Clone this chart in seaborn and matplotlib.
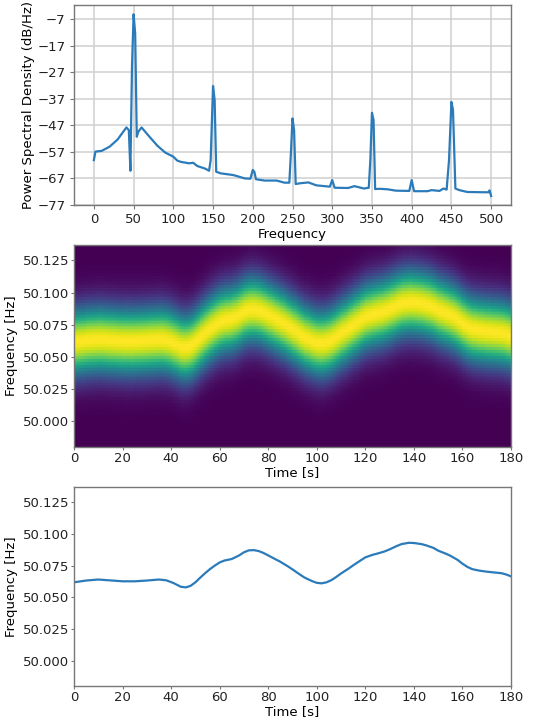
import numpy as np
import pandas as pd
import matplotlib
matplotlib.use("Agg")
import matplotlib.pyplot as plt
import seaborn as sns

# ---------------- data ----------------
psd_freq = [0, 2, 10, 20, 30, 38, 41, 44, 46, 48, 50, 52, 54, 56, 60, 70, 80, 90,
            100, 105, 110, 120, 125, 130, 140, 145, 147, 150, 152, 154, 160, 175,
            180, 190, 197, 200, 202, 204, 215, 230, 240, 246, 248, 250, 252, 254,
            260, 270, 280, 297, 300, 303, 320, 328, 340, 346, 348, 350, 352, 354,
            360, 370, 380, 397, 400, 403, 420, 425, 435, 440, 444, 447, 450, 452,
            455, 460, 470, 490, 497, 498, 500]
psd_db = [-60.1, -56.9, -56.6, -55.0, -52.3, -49.0, -47.8, -48.8, -64.1, -24.9,
          -5.2, -12.4, -51.3, -49.4, -47.8, -51.3, -54.7, -57.3,
          -58.8, -60.3, -60.8, -61.3, -61.1, -62.3, -63.3, -64.1, -60.1, -32.2,
          -37.5, -64.5, -65.1, -65.7,
          -66.1, -67.0, -67.1, -63.8, -64.5, -67.3, -67.8, -67.8, -68.6, -68.6,
          -57.6, -44.4, -48.8, -69.1,
          -68.8, -68.5, -69.6, -70.1, -67.6, -70.5, -70.6, -69.9, -70.8, -70.5,
          -60.0, -42.3, -45.0, -71.0,
          -70.9, -71.1, -71.6, -71.7, -67.6, -71.8, -71.8, -71.4, -71.7, -70.8,
          -71.2, -60.1, -38.2, -41.2,
          -70.8, -71.4, -72.1, -72.2, -72.2, -71.5, -73.6]
psd_xticks = [0, 50, 100, 150, 200, 250, 300, 350, 400, 450, 500]
psd_yticks = [-77, -67, -57, -47, -37, -27, -17, -7]

track_time = [0, 5, 10, 15, 20, 25, 30, 35, 38, 41, 44, 46, 48, 50, 52, 54, 56,
              58, 60, 62, 65, 68, 70, 72, 74, 76, 78, 80, 83, 85, 88, 90, 93,
              95, 98, 100, 102, 104, 106, 108, 110, 113, 115, 118, 120, 123,
              125, 128, 130, 133, 135, 138, 140, 143, 145, 148, 150, 153, 155,
              158, 160, 162, 164, 167, 170, 173, 176, 178, 180]
track_freq = [50.0618, 50.0632, 50.0640, 50.0633, 50.0626, 50.0626, 50.0632,
              50.0640, 50.0634, 50.0612, 50.0583, 50.0578, 50.0590, 50.0618,
              50.0655, 50.0690, 50.0722, 50.0750, 50.0775, 50.0790, 50.0802,
              50.0830, 50.0855, 50.0870, 50.0872, 50.0865, 50.0850, 50.0830,
              50.0800, 50.0780, 50.0745, 50.0720, 50.0680, 50.0655, 50.0628,
              50.0614, 50.0610, 50.0618, 50.0635, 50.0660, 50.0688, 50.0725,
              50.0752, 50.0790, 50.0815, 50.0835, 50.0845, 50.0862, 50.0878,
              50.0905, 50.0920, 50.0930, 50.0928, 50.0920, 50.0910, 50.0890,
              50.0868, 50.0845, 50.0828, 50.0795, 50.0765, 50.0740, 50.0722,
              50.0710, 50.0702, 50.0696, 50.0690, 50.0680, 50.0665]
freq_ticks = [50.000, 50.025, 50.050, 50.075, 50.100, 50.125]
time_ticks = [0, 20, 40, 60, 80, 100, 120, 140, 160, 180]
band_width = 0.025          # spectral line half-width [Hz]
band_shape = 2.0            # exponent of the line profile
freq_bin = 0.0023           # frequency resolution of the spectrogram [Hz]
freq_lim = (49.980, 50.137)

# ---------------- figure ----------------
plt.rcParams['font.family'] = ['DejaVu Sans']
FS = 9.5
spine_col = '#777777'
line_col = '#2b7bba'

fig = plt.figure(figsize=(5.58, 7.24), dpi=100)
W, H = 558.0, 724.0
def box(l, r, t, b):
    return [l / W, 1 - b / H, (r - l) / W, (b - t) / H]

ax1 = fig.add_axes(box(74, 511, 5, 205))
ax2 = fig.add_axes(box(74, 511, 245, 447))
ax3 = fig.add_axes(box(74, 511, 487, 686))

# --- PSD ---
df_psd = pd.DataFrame({'f': psd_freq, 'p': psd_db})
sns.lineplot(data=df_psd, x='f', y='p', ax=ax1, color=line_col, lw=1.6)
ax1.set_xlim(-25, 525)
ax1.set_ylim(-77, -1.7)
ax1.set_xticks(psd_xticks)
ax1.set_yticks(psd_yticks)
ax1.grid(True, color='#d0d0d0', lw=1.1)
ax1.set_axisbelow(True)
ax1.set_xlabel('Frequency', fontsize=FS, labelpad=1.5)
ax1.set_ylabel('Power Spectral Density (dB/Hz)', fontsize=FS, labelpad=2)
ax1.tick_params(labelsize=FS, colors='#222222', length=3, pad=3)

# --- spectrogram ---
t_nodes = np.array(track_time, dtype=float)
c_nodes = np.array(track_freq)
centers = np.arange(freq_lim[0] + freq_bin / 2, freq_lim[1] + freq_bin, freq_bin)
edges_lo = centers - freq_bin / 2
edges_hi = centers + freq_bin / 2
f_rows = np.ravel(np.column_stack([edges_lo, edges_hi - 1e-7]))
c_rows = np.repeat(centers, 2)
T, F = np.meshgrid(t_nodes, f_rows)
D = np.abs(c_rows[:, None] - c_nodes[None, :])
Z = np.exp(-(D / band_width) ** band_shape)
ax2.pcolormesh(T, F, Z, shading='gouraud', cmap='viridis', vmin=0, vmax=1)
ax2.set_xlim(0, 180)
ax2.set_ylim(*freq_lim)

# --- tracked frequency ---
df_tr = pd.DataFrame({'t': track_time, 'f': track_freq})
sns.lineplot(data=df_tr, x='t', y='f', ax=ax3, color=line_col, lw=1.6)
ax3.set_xlim(0, 180)
ax3.set_ylim(*freq_lim)

for ax in (ax2, ax3):
    ax.set_xticks(time_ticks)
    ax.set_yticks(freq_ticks)
    ax.yaxis.set_major_formatter(matplotlib.ticker.FormatStrFormatter('%.3f'))
    ax.set_xlabel('Time [s]', fontsize=FS, labelpad=1)
    ax.set_ylabel('Frequency [Hz]', fontsize=FS, labelpad=3)
    ax.tick_params(labelsize=FS, colors='#222222', length=2.5, pad=1)

for ax in (ax1, ax2, ax3):
    ax.tick_params(color=spine_col)
    for s in ax.spines.values():
        s.set_color(spine_col)
        s.set_linewidth(1.0)

fig.savefig('out.png', dpi=100)
